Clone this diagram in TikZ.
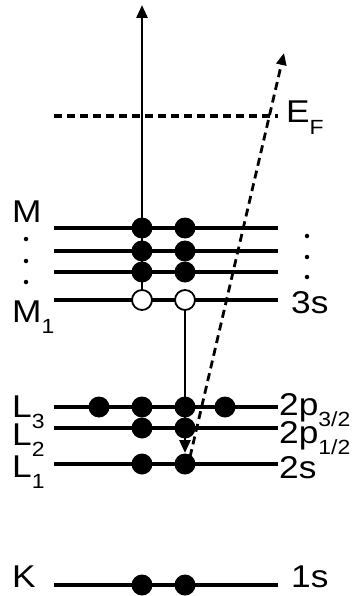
\documentclass[tikz,border=0pt]{standalone}
\usepackage{fontspec}
\setmainfont{Liberation Sans}[FakeStretch=1.12]
\usetikzlibrary{arrows.meta}
\newcommand\lsub[1]{\raisebox{-0.36em}{\fontsize{20.5}{20.5}\selectfont #1}}
\begin{document}
\begin{tikzpicture}[x=1pt,y=-1pt,
  level/.style={line width=3.2pt},
  edot/.style={circle,fill=black,inner sep=0pt,minimum size=21pt},
  hole/.style={circle,draw=black,fill=white,line width=1.8pt,inner sep=0pt,minimum size=20pt},
  lbl/.style={inner sep=0pt,font=\fontsize{31.5}{31.5}\selectfont},
  vdots/.style={circle,fill=black,inner sep=0pt,minimum size=4.5pt},
  arr/.style={line width=2.8pt,-{Triangle[length=13pt,width=11pt]}},
  darr/.style={line width=2.8pt,dash pattern=on 8pt off 5pt,-{Triangle[length=12pt,width=10pt]}}]
\useasboundingbox (0,0) rectangle (355,596);
% level end points
\coordinate (EFa) at (54,116); \coordinate (EFb) at (278,116);
\coordinate (Ma) at (54,228); \coordinate (Mb) at (278,228);
\coordinate (Mba) at (54,251); \coordinate (Mbb) at (278,251);
\coordinate (Mca) at (54,272); \coordinate (Mcb) at (278,272);
\coordinate (Mda) at (54,300); \coordinate (Mdb) at (278,300);
\coordinate (L3a) at (54,407); \coordinate (L3b) at (278,407);
\coordinate (L2a) at (54,428); \coordinate (L2b) at (278,428);
\coordinate (L1a) at (54,464); \coordinate (L1b) at (278,464);
\coordinate (Ka) at (54,585); \coordinate (Kb) at (278,585);
% levels
\draw[line width=3.2pt,dash pattern=on 8pt off 5pt] (EFa) -- (EFb);
\foreach \p in {M,Mb,Mc,Md,L3,L2,L1,K}{\draw[level] (\p a) -- (\p b);}
% electrons
\node[edot] (ma1) at (142,228) {}; \node[edot] (ma2) at (185,228) {};
\node[edot] (mb1) at (142,251) {}; \node[edot] (mb2) at (185,251) {};
\node[edot] (mc1) at (142,272) {}; \node[edot] (mc2) at (185,272) {};
\node[hole] (h1) at (142,300) {}; \node[hole] (h2) at (185,300) {};
\node[edot] (l31) at (99,407) {}; \node[edot] (l32) at (142,407) {};
\node[edot] (l33) at (185,407) {}; \node[edot] (l34) at (225,407) {};
\node[edot] (l21) at (142,428) {}; \node[edot] (l22) at (185,428) {};
\node[edot] (l11) at (142,464) {}; \node[edot] (l12) at (185,464) {};
\node[edot] (k1) at (142,585) {}; \node[edot] (k2) at (185,585) {};
% arrows
\coordinate (top) at (142,5);
\coordinate (down) at (185,453);
\coordinate (ds) at (190,457);
\coordinate (de) at (284,53);
\draw[arr] (h1.north) -- (top);
\draw[arr] (h2.south) -- (down);
\draw[darr] (ds) -- (de);
% left labels
\node[lbl,anchor=base west] (lM) at (12,222) {M};
\node[vdots] (ld1) at (26,239) {}; \node[vdots] (ld2) at (26,261) {}; \node[vdots] (ld3) at (26,282) {};
\node[lbl,anchor=base west] (lM1) at (12,322) {M\lsub{1}};
\node[lbl,anchor=base west] (lL3) at (12,417) {L\lsub{3}};
\node[lbl,anchor=base west] (lL2) at (12,445) {L\lsub{2}};
\node[lbl,anchor=base west] (lL1) at (12,477) {L\lsub{1}};
\node[lbl,anchor=base west] (lK) at (12,587) {K};
% right labels
\node[lbl,anchor=base west] (lEF) at (286,123) {E\lsub{F}};
\node[vdots] (rd1) at (307,236) {}; \node[vdots] (rd2) at (307,257) {}; \node[vdots] (rd3) at (307,277) {};
\node[lbl,anchor=base west] (l3s) at (291,313) {3s};
\node[lbl,anchor=base west] (l2p3) at (279,415) {2p\lsub{3/2}};
\node[lbl,anchor=base west] (l2p1) at (279,443) {2p\lsub{1/2}};
\node[lbl,anchor=base west] (l2s) at (279,478) {2s};
\node[lbl,anchor=base west] (l1s) at (291,587) {1s};
\end{tikzpicture}
\end{document}
